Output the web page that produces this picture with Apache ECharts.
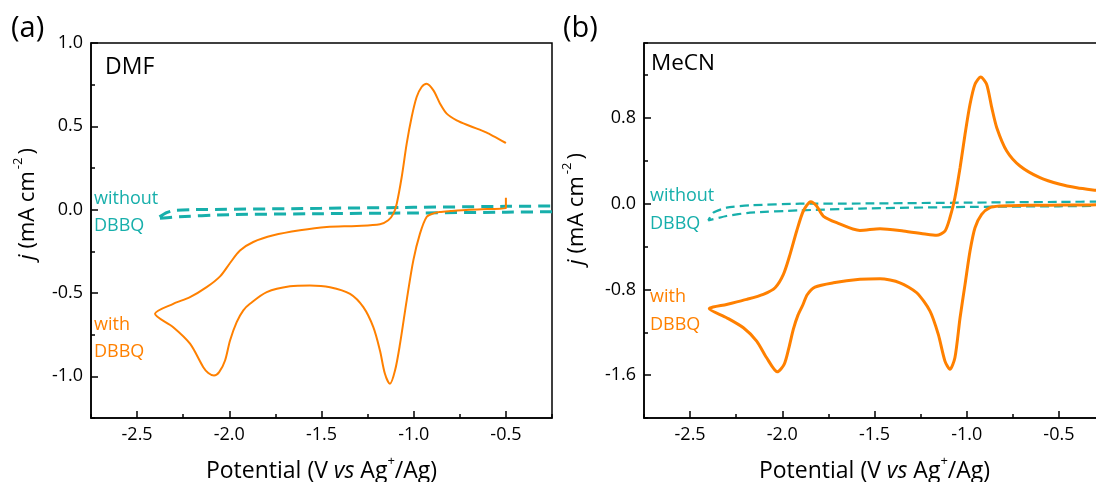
<!DOCTYPE html>
<html><head><meta charset="utf-8">
<script src="https://cdn.jsdelivr.net/npm/echarts@6/dist/echarts.min.js"></script>
<style>html,body{margin:0;padding:0;background:#fff}#c{width:1096px;height:482px}</style>
</head><body><div id="c"></div>
<script>
// ---------- data ----------
const xTickLabels = [-2.5, -2.0, -1.5, -1.0, -0.5];
const yTickLabelsA = [-1.0, -0.5, 0.0, 0.5, 1.0];
const yTickLabelsB = [-1.6, -0.8, 0.0, 0.8];

// Panel (a) DMF, with DBBQ  [potential V, j mA cm-2]
const dmfWith = [
  [-0.5, 0.072], [-0.5, 0.008], [-0.60, 0.004], [-0.70, 0.0], [-0.80, -0.008], [-0.86, -0.014],
  [-0.893, -0.022], [-0.93, -0.044], [-0.966, -0.144], [-1.002, -0.304], [-1.038, -0.544],
  [-1.074, -0.804], [-1.101, -0.964], [-1.129, -1.045], [-1.156, -0.985], [-1.183, -0.845],
  [-1.219, -0.705], [-1.273, -0.585], [-1.345, -0.505], [-1.454, -0.465], [-1.563, -0.455],
  [-1.671, -0.46], [-1.797, -0.495], [-1.888, -0.565], [-1.924, -0.604], [-1.96, -0.675],
  [-1.996, -0.785], [-2.023, -0.905], [-2.055, -0.975], [-2.083, -0.995], [-2.114, -0.98],
  [-2.141, -0.945], [-2.213, -0.804], [-2.304, -0.705], [-2.403, -0.625],
  [-2.304, -0.565], [-2.213, -0.525], [-2.123, -0.465], [-2.05, -0.40], [-1.996, -0.32],
  [-1.942, -0.245], [-1.87, -0.194], [-1.761, -0.154], [-1.617, -0.124], [-1.472, -0.104],
  [-1.309, -0.098], [-1.183, -0.088], [-1.138, -0.064], [-1.11, -0.024], [-1.092, 0.036],
  [-1.065, 0.196], [-1.038, 0.396], [-1.011, 0.556], [-0.984, 0.676], [-0.957, 0.736],
  [-0.93, 0.756], [-0.893, 0.716], [-0.857, 0.636], [-0.821, 0.576], [-0.767, 0.536],
  [-0.695, 0.502], [-0.604, 0.462], [-0.5, 0.40]
];
// Panel (a) DMF, without DBBQ
const dmfWithout = [
  [-0.25, -0.012], [-0.5, -0.015], [-1.0, -0.02], [-1.5, -0.024], [-2.0, -0.03], [-2.3, -0.044],
  [-2.394, -0.054], [-2.34, -0.018], [-2.3, -0.005], [-2.2, 0.0], [-1.5, 0.008], [-1.0, 0.014],
  [-0.5, 0.02], [-0.25, 0.022]
];
// Panel (b) MeCN, with DBBQ
const mecnWith = [
  [-0.25, -0.010], [-0.40, -0.012], [-0.55, -0.014], [-0.674, -0.015], [-0.76, -0.018],
  [-0.819, -0.021], [-0.874, -0.037], [-0.919, -0.099], [-0.955, -0.224], [-0.982, -0.442],
  [-1.009, -0.753], [-1.036, -1.064], [-1.064, -1.438], [-1.091, -1.546], [-1.118, -1.469],
  [-1.154, -1.22], [-1.199, -1.002], [-1.271, -0.831], [-1.362, -0.738], [-1.47, -0.70],
  [-1.579, -0.706], [-1.723, -0.738], [-1.823, -0.778], [-1.865, -0.85], [-1.89, -0.95],
  [-1.915, -1.04], [-1.94, -1.17], [-1.965, -1.35], [-1.99, -1.50], [-2.027, -1.569], [-2.085, -1.438],
  [-2.139, -1.282], [-2.211, -1.158], [-2.302, -1.064], [-2.396, -0.98],
  [-2.302, -0.94], [-2.193, -0.893], [-2.103, -0.846], [-2.039, -0.784], [-1.994, -0.66],
  [-1.958, -0.473], [-1.922, -0.255], [-1.886, -0.068], [-1.846, 0.019], [-1.814, -0.021],
  [-1.778, -0.115], [-1.705, -0.177], [-1.579, -0.250], [-1.47, -0.233], [-1.344, -0.255],
  [-1.217, -0.286], [-1.163, -0.295], [-1.118, -0.255], [-1.091, -0.131], [-1.064, 0.056],
  [-1.036, 0.336], [-1.009, 0.648], [-0.982, 0.928], [-0.955, 1.115], [-0.924, 1.183],
  [-0.892, 1.115], [-0.864, 0.896], [-0.837, 0.71], [-0.783, 0.492], [-0.711, 0.352],
  [-0.603, 0.243], [-0.494, 0.181], [-0.403, 0.149], [-0.30, 0.125], [-0.25, 0.115]
];
// Panel (b) MeCN, without DBBQ
const mecnWithout = [
  [-0.25, -0.02], [-0.5, -0.024], [-1.0, -0.03], [-1.579, -0.045], [-1.904, -0.062],
  [-2.175, -0.084], [-2.302, -0.115], [-2.401, -0.155],
  [-2.374, -0.084], [-2.302, -0.037], [-2.175, -0.015], [-1.904, 0.0], [-1.579, 0.002],
  [-1.0, 0.01], [-0.5, 0.017], [-0.25, 0.02]
];

// ---------- styling ----------
const FONT = "'Open Sans', sans-serif";
const ORANGE = '#FF8000';
const TEAL = '#17AFAB';
const BLACK = '#000';

function xAxesFor(gi) {
  const nameRich = {
    a: {fontSize: 23, fontFamily: FONT, color: BLACK, lineHeight: 32},
    b: {fontSize: 23, fontFamily: FONT, color: BLACK, fontStyle: 'italic', lineHeight: 32},
    c: {fontSize: 13, fontFamily: FONT, color: BLACK, verticalAlign: 'top', lineHeight: 13}
  };
  return [{
    gridIndex: gi, type: 'value', position: 'bottom', min: -2.75, max: -0.25, interval: 0.25,
    axisLine: {onZero: false, lineStyle: {color: BLACK, width: 1.5}},
    axisTick: {inside: true, length: 7, customValues: xTickLabels, lineStyle: {color: BLACK, width: 1.5}},
    axisLabel: {customValues: xTickLabels, formatter: v => v.toFixed(1), color: BLACK, fontSize: 18, fontFamily: FONT, margin: 8},
    splitLine: {show: false},
    name: '{a|Potential (V }{b|vs}{a| Ag}{c|+}{a|/Ag)}',
    nameLocation: 'middle', nameGap: 37,
    nameTextStyle: {rich: nameRich}
  }, {
    gridIndex: gi, type: 'value', position: 'bottom', min: -2.75, max: -0.25, interval: 0.25,
    axisLine: {show: false, onZero: false},
    axisTick: {inside: true, length: 4, lineStyle: {color: BLACK, width: 1.5}},
    axisLabel: {show: false}, splitLine: {show: false}
  }];
}
function yAxesFor(gi, min, max, step, labels) {
  return [{
    gridIndex: gi, type: 'value', position: 'left', min: min, max: max, interval: step,
    axisLine: {onZero: false, lineStyle: {color: BLACK, width: 1.5}},
    axisTick: {inside: true, length: 7, customValues: labels, lineStyle: {color: BLACK, width: 1.5}},
    axisLabel: {customValues: labels, formatter: v => v.toFixed(1), color: BLACK, fontSize: 18, fontFamily: FONT, margin: 8},
    splitLine: {show: false}
  }, {
    gridIndex: gi, type: 'value', position: 'left', min: min, max: max, interval: step,
    axisLine: {show: false, onZero: false},
    axisTick: {inside: true, length: 4, lineStyle: {color: BLACK, width: 1.5}},
    axisLabel: {show: false}, splitLine: {show: false}
  }];
}

const yNameRich = {
  i: {fontSize: 22, fontFamily: FONT, color: BLACK, fontStyle: 'italic', lineHeight: 32},
  a: {fontSize: 22, fontFamily: FONT, color: BLACK, lineHeight: 32},
  s: {fontSize: 13, fontFamily: FONT, color: BLACK, verticalAlign: 'top', lineHeight: 13, padding: [0, 3, 0, 2]}
};
function txt(x, y, text, size, color) {
  return {
    type: 'text', x: x, y: y, silent: true,
    style: {text: text, fill: color, font: size + 'px ' + FONT, verticalAlign: 'middle', align: 'left'}
  };
}

const gridCommon = {top: 43, bottom: 64, show: true, borderColor: BLACK, borderWidth: 1.5,
  backgroundColor: 'transparent', containLabel: false, outerBoundsMode: 'none'};

const option = {
  animation: false,
  backgroundColor: '#fff',
  grid: [
    Object.assign({left: 91, right: 544}, gridCommon),
    Object.assign({left: 644, right: -9}, gridCommon)
  ],
  xAxis: [...xAxesFor(0), ...xAxesFor(1)],
  yAxis: [...yAxesFor(0, -1.25, 1.0, 0.25, yTickLabelsA), ...yAxesFor(1, -2.0, 1.5, 0.4, yTickLabelsB)],
  series: [
    {type: 'line', xAxisIndex: 0, yAxisIndex: 0, data: dmfWithout, showSymbol: false, smooth: 0.2,
     lineStyle: {color: TEAL, width: 3, type: [12, 7]}},
    {type: 'line', xAxisIndex: 0, yAxisIndex: 0, data: dmfWith, showSymbol: false, smooth: 0.3,
     lineStyle: {color: ORANGE, width: 2}},
    {type: 'line', xAxisIndex: 2, yAxisIndex: 2, data: mecnWithout, showSymbol: false, smooth: 0.2,
     lineStyle: {color: TEAL, width: 2.2, type: [9, 5]}},
    {type: 'line', xAxisIndex: 2, yAxisIndex: 2, data: mecnWith, showSymbol: false, smooth: 0.25,
     lineStyle: {color: ORANGE, width: 3}}
  ],
  graphic: [
    txt(11, 29, '(a)', 29, BLACK),
    txt(563, 29, '(b)', 29, BLACK),
    txt(105, 67, 'DMF', 23, BLACK),
    txt(651, 64, 'MeCN', 22.5, BLACK),
    txt(94, 199, 'without', 18, TEAL),
    txt(94, 226, 'DBBQ', 18, TEAL),
    txt(94, 325, 'with', 18, ORANGE),
    txt(94, 352, 'DBBQ', 18, ORANGE),
    txt(650, 196, 'without', 18, TEAL),
    txt(650, 224, 'DBBQ', 18, TEAL),
    txt(650, 297, 'with', 18, ORANGE),
    txt(650, 325, 'DBBQ', 18, ORANGE),
    {type: 'text', x: 28, y: 204, rotation: Math.PI / 2, silent: true,
     style: {text: '{i|j}{a| (mA cm}{s|-2}{a|)}', rich: yNameRich, align: 'center', verticalAlign: 'middle'}},
    {type: 'text', x: 577, y: 209, rotation: Math.PI / 2, silent: true,
     style: {text: '{i|j}{a| (mA cm}{s|-2}{a|)}', rich: yNameRich, align: 'center', verticalAlign: 'middle'}}
  ]
};
const chart = echarts.init(document.getElementById('c'));
chart.setOption(option);
</script>
</body></html>
